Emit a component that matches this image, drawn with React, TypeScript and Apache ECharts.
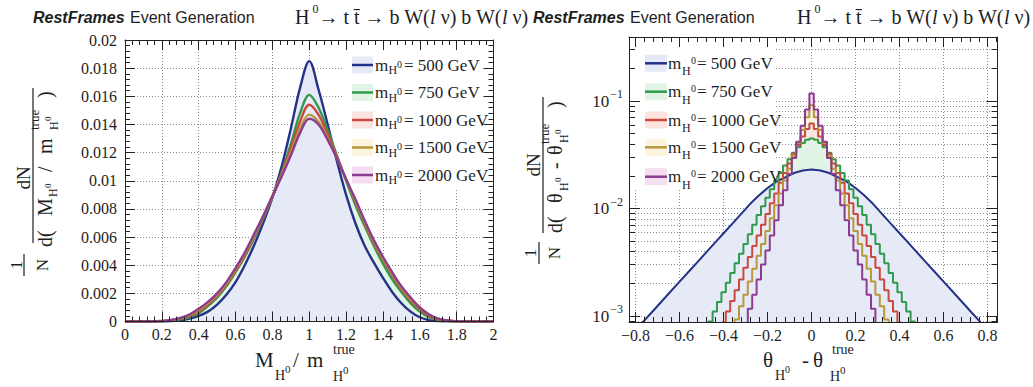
import React, { useEffect, useRef } from 'react';
import * as echarts from 'echarts';

// ---------- data ----------
const massLabels = ['500', '750', '1000', '1500', '2000'];
const lineColors = ['#243287', '#2f9a4c', '#c84a3e', '#b7983a', '#8c3c90'];
const fillColors = ['#e6eaf6', '#e1f4e5', '#fbe3df', '#fcf4dd', '#f5def1'];

// left panel: M_H0 / m_H0^true
const ratioX = [0, 0.05, 0.1, 0.15, 0.2, 0.25, 0.3, 0.35, 0.4, 0.45, 0.5, 0.55, 0.6, 0.65, 0.7, 0.75, 0.8, 0.85, 0.9, 0.95, 1, 1.05, 1.1, 1.15, 1.2, 1.25, 1.3, 1.35, 1.4, 1.45, 1.5, 1.55, 1.6, 1.65, 1.7, 1.75, 1.8, 1.85, 1.9, 1.95, 2];
const ratio500 = [0, 0, 0, 0, 0.00001, 0.00003, 0.00008, 0.0002, 0.0004, 0.0007, 0.0012, 0.0019, 0.0028, 0.004, 0.0054, 0.007, 0.0088, 0.011, 0.0137, 0.0166, 0.0185, 0.0165, 0.014, 0.0114, 0.009, 0.007, 0.0054, 0.0042, 0.0031, 0.0021, 0.0013, 0.0007, 0.0003, 0.0001, 0.00003, 0.00001, 0, 0, 0, 0, 0];
const ratio750 = [0, 0, 0, 0, 0.00002, 0.00006, 0.00015, 0.0003, 0.0006, 0.0011, 0.0017, 0.0025, 0.0035, 0.0046, 0.0059, 0.0073, 0.0088, 0.0106, 0.0126, 0.0148, 0.0161, 0.0152, 0.0136, 0.0118, 0.01, 0.0083, 0.0068, 0.0054, 0.0041, 0.003, 0.0021, 0.0013, 0.0007, 0.0003, 0.0001, 0.00004, 0.00001, 0, 0, 0, 0];
const ratio1000 = [0, 0, 0, 0, 0.00003, 0.00008, 0.0002, 0.0004, 0.0007, 0.0012, 0.0018, 0.0026, 0.0036, 0.0047, 0.006, 0.0074, 0.0089, 0.0105, 0.0123, 0.0142, 0.0154, 0.0147, 0.0133, 0.0117, 0.0101, 0.0085, 0.007, 0.0056, 0.0044, 0.0033, 0.0023, 0.0015, 0.0009, 0.0004, 0.00015, 0.00005, 0.00001, 0, 0, 0, 0];
const ratio1500 = [0, 0, 0, 0, 0.00003, 0.0001, 0.00022, 0.00045, 0.0008, 0.0013, 0.0019, 0.0027, 0.0037, 0.0048, 0.0061, 0.0075, 0.0089, 0.0104, 0.012, 0.0137, 0.0147, 0.0142, 0.013, 0.0116, 0.0101, 0.0086, 0.0071, 0.0057, 0.0045, 0.0034, 0.0024, 0.0016, 0.001, 0.0005, 0.0002, 0.00006, 0.00002, 0, 0, 0, 0];
const ratio2000 = [0, 0, 0, 0, 0.00004, 0.00011, 0.00025, 0.0005, 0.0009, 0.0014, 0.002, 0.0028, 0.0038, 0.0049, 0.0062, 0.0075, 0.0089, 0.0103, 0.0118, 0.0134, 0.0144, 0.014, 0.0129, 0.0116, 0.0101, 0.0087, 0.0072, 0.0058, 0.0046, 0.0035, 0.0025, 0.0017, 0.001, 0.0005, 0.0002, 0.00007, 0.00002, 0, 0, 0, 0];

// right panel: theta_H0 - theta_H0^true
const thetaBins = [-0.48, -0.46, -0.44, -0.42, -0.4, -0.38, -0.36, -0.34, -0.32, -0.3, -0.28, -0.26, -0.24, -0.22, -0.2, -0.18, -0.16, -0.14, -0.12, -0.1, -0.08, -0.06, -0.04, -0.02, 0, 0.02, 0.04, 0.06, 0.08, 0.1, 0.12, 0.14, 0.16, 0.18, 0.2, 0.22, 0.24, 0.26, 0.28, 0.3, 0.32, 0.34, 0.36, 0.38, 0.4, 0.42, 0.44, 0.46, 0.48];
const thetaCoarse = [-0.8, -0.76, -0.72, -0.68, -0.64, -0.6, -0.56, -0.52, -0.48, -0.44, -0.4, -0.36, -0.32, -0.28, -0.24, -0.2, -0.16, -0.12, -0.08, -0.04, 0, 0.04, 0.08, 0.12, 0.16, 0.2, 0.24, 0.28, 0.32, 0.36, 0.4, 0.44, 0.48, 0.52, 0.56, 0.6, 0.64, 0.68, 0.72, 0.76, 0.8];
const theta500 = [0.00074, 0.00091, 0.00112, 0.00138, 0.0017, 0.00209, 0.00257, 0.00316, 0.00389, 0.00479, 0.00589, 0.00724, 0.00891, 0.011, 0.0132, 0.0155, 0.0178, 0.0195, 0.0214, 0.0226, 0.0231, 0.0226, 0.0214, 0.0195, 0.0178, 0.0155, 0.0132, 0.011, 0.00891, 0.00724, 0.00589, 0.00479, 0.00389, 0.00316, 0.00257, 0.00209, 0.0017, 0.00138, 0.00112, 0.00091, 0.00074];
const theta750 = [0.00072, 0.00089, 0.0011, 0.00135, 0.00166, 0.00204, 0.00251, 0.00309, 0.0038, 0.00468, 0.00575, 0.00708, 0.00871, 0.0105, 0.0126, 0.0151, 0.0182, 0.0214, 0.0251, 0.0288, 0.0331, 0.0372, 0.0407, 0.0437, 0.0447, 0.0437, 0.0407, 0.0372, 0.0331, 0.0288, 0.0251, 0.0214, 0.0182, 0.0151, 0.0126, 0.0105, 0.00871, 0.00708, 0.00575, 0.00468, 0.0038, 0.00309, 0.00251, 0.00204, 0.00166, 0.00135, 0.0011, 0.00089, 0.00072];
const theta1000 = [null, null, null, null, 0.00087, 0.0011, 0.00138, 0.00174, 0.00219, 0.00282, 0.00355, 0.00447, 0.00562, 0.00708, 0.00891, 0.0112, 0.0138, 0.0174, 0.0214, 0.0263, 0.0324, 0.0389, 0.0468, 0.055, 0.0617, 0.055, 0.0468, 0.0389, 0.0324, 0.0263, 0.0214, 0.0174, 0.0138, 0.0112, 0.00891, 0.00708, 0.00562, 0.00447, 0.00355, 0.00282, 0.00219, 0.00174, 0.00138, 0.0011, 0.00087, null, null, null, null];
const theta1500 = [null, null, null, null, null, null, 0.00071, 0.00093, 0.00123, 0.00158, 0.00209, 0.00275, 0.00363, 0.00468, 0.00617, 0.00813, 0.0107, 0.0138, 0.0182, 0.0234, 0.0309, 0.0407, 0.0537, 0.0708, 0.0912, 0.0708, 0.0537, 0.0407, 0.0309, 0.0234, 0.0182, 0.0138, 0.0107, 0.00813, 0.00617, 0.00468, 0.00363, 0.00275, 0.00209, 0.00158, 0.00123, 0.00093, 0.00071, null, null, null, null, null, null];
const theta2000 = [null, null, null, null, null, null, null, null, null, 0.00085, 0.00117, 0.00158, 0.00219, 0.00302, 0.00407, 0.00562, 0.00776, 0.0107, 0.0148, 0.0209, 0.0295, 0.0417, 0.0589, 0.0832, 0.1175, 0.0832, 0.0589, 0.0417, 0.0295, 0.0209, 0.0148, 0.0107, 0.00776, 0.00562, 0.00407, 0.00302, 0.00219, 0.00158, 0.00117, 0.00085, null, null, null, null, null, null, null, null, null];

// axis ticks
const thetaMajor = [-0.8, -0.6, -0.4, -0.2, 0, 0.2, 0.4, 0.6, 0.8];
const thetaMinor = [-0.76, -0.72, -0.68, -0.64, -0.56, -0.52, -0.48, -0.44, -0.36, -0.32, -0.28, -0.24, -0.16, -0.12, -0.08, -0.04, 0.04, 0.08, 0.12, 0.16, 0.24, 0.28, 0.32, 0.36, 0.44, 0.48, 0.52, 0.56, 0.64, 0.68, 0.72, 0.76, 0.84];
const logMajor = [0.001, 0.01, 0.1];
const logMinor = [0.0009, 0.002, 0.003, 0.004, 0.005, 0.006, 0.007, 0.008, 0.009, 0.02, 0.03, 0.04, 0.05, 0.06, 0.07, 0.08, 0.09, 0.2, 0.3];

// ---------- styling helpers ----------
const SERIF = 'Liberation Serif, Times New Roman, serif';
const SANS = 'Liberation Sans, Arial, sans-serif';
const INK = '#1e1e1e';
const FRAME = '#222';

function txt(text: string, x: number, y: number, size: number, align: string = 'left', extra: any = {}) {
  return {
    type: 'text', x, y, z: 20, silent: true,
    style: { text, fontSize: size, fontFamily: SERIF, fill: INK, textAlign: align, textVerticalAlign: 'middle', ...extra },
  };
}
function seg(x1: number, y1: number, x2: number, y2: number, color = INK, w = 1.2) {
  return { type: 'line', z: 20, silent: true, shape: { x1, y1, x2, y2 }, style: { stroke: color, lineWidth: w } };
}

const frameLine = { show: true, onZero: false, lineStyle: { color: FRAME, width: 1 } };
const gridLineStyle = { color: '#8c8c8c', width: 1, type: [1, 2] };
const tickLabel = { fontFamily: SERIF, fontSize: 16, color: INK };
const noAxisLine = { show: false, onZero: false };

function buildOption() {
  const leftSets = [ratio500, ratio750, ratio1000, ratio1500, ratio2000];
  const rightSets: any[] = [
    [thetaCoarse, theta500], [thetaBins, theta750], [thetaBins, theta1000], [thetaBins, theta1500], [thetaBins, theta2000],
  ];
  const pairs = (xs: number[], ys: (number | null)[]) => xs.map((x, i) => [x, ys[i] === null ? '-' : ys[i]]);

  const series: any[] = [];
  for (let i = 4; i >= 0; i--) {
    series.push({
      type: 'line', name: `fillL${i}`, xAxisIndex: 0, yAxisIndex: 0, data: pairs(ratioX, leftSets[i]),
      smooth: 0.35, symbol: 'none', silent: true, z: 2,
      lineStyle: { width: 0, opacity: 0 }, areaStyle: { color: fillColors[i], opacity: 1 },
    });
  }
  for (let i = 0; i < 5; i++) {
    series.push({
      type: 'line', name: `m_H0 = ${massLabels[i]} GeV`, xAxisIndex: 0, yAxisIndex: 0, data: pairs(ratioX, leftSets[i]),
      smooth: 0.35, symbol: 'none', silent: true, z: 3,
      lineStyle: { width: 2.4, color: lineColors[i] },
    });
  }
  for (let i = 4; i >= 0; i--) {
    series.push({
      type: 'line', name: `fillR${i}`, xAxisIndex: 3, yAxisIndex: 3, data: pairs(rightSets[i][0], rightSets[i][1]),
      step: i === 0 ? false : 'middle', symbol: 'none', silent: true, z: 2,
      lineStyle: { width: 0, opacity: 0 }, areaStyle: { color: fillColors[i], opacity: 1, origin: 'start' },
    });
  }
  for (let i = 0; i < 5; i++) {
    series.push({
      type: 'line', name: `theta m_H0 = ${massLabels[i]} GeV`, xAxisIndex: 3, yAxisIndex: 3, data: pairs(rightSets[i][0], rightSets[i][1]),
      step: i === 0 ? false : 'middle', symbol: 'none', silent: true, z: 3,
      lineStyle: { width: 2, color: lineColors[i] },
    });
  }

  const linX = { type: 'value', gridIndex: 0, min: 0, max: 2, interval: 0.2 };
  const linY = { type: 'value', gridIndex: 0, min: 0, max: 0.02, interval: 0.002 };
  const thX = { type: 'value', gridIndex: 1, min: -0.83, max: 0.845 };
  const logY = { type: 'log', logBase: 10, gridIndex: 1, min: 0.00088, max: 0.394 };
  const majTick = { inside: true, length: 10, lineStyle: { color: FRAME } };
  const minTick = { show: true, splitNumber: 5, length: 5, lineStyle: { color: FRAME } };
  const thetaFmt = (v: number) => {
    const r = Math.round(v * 10) / 10;
    if (r === 0) return '0';
    return (r < 0 ? '\u2212' : '') + Math.abs(r).toFixed(1);
  };

  const xAxis = [
    { ...linX, position: 'bottom', z: 5, axisLine: frameLine, axisTick: majTick, minorTick: minTick, axisLabel: { ...tickLabel, margin: 5 }, splitLine: { show: false } },
    { ...linX, position: 'bottom', z: 0, axisLine: noAxisLine, axisTick: { show: false }, axisLabel: { show: false }, splitLine: { show: true, lineStyle: gridLineStyle } },
    { ...linX, position: 'top', z: 5, axisLine: frameLine, axisTick: majTick, minorTick: minTick, axisLabel: { show: false }, splitLine: { show: false } },
    { ...thX, position: 'bottom', z: 5, axisLine: frameLine, axisTick: { ...majTick, customValues: thetaMajor }, axisLabel: { ...tickLabel, margin: 5, customValues: thetaMajor, formatter: thetaFmt }, splitLine: { show: false } },
    { ...thX, position: 'bottom', z: 5, axisLine: noAxisLine, axisTick: { inside: true, length: 5, lineStyle: { color: FRAME }, customValues: thetaMinor }, axisLabel: { show: false }, splitLine: { show: false } },
    { ...thX, position: 'bottom', z: 0, axisLine: noAxisLine, axisTick: { show: false, customValues: thetaMajor }, axisLabel: { show: false }, splitLine: { show: true, lineStyle: gridLineStyle } },
    { ...thX, position: 'top', z: 5, axisLine: frameLine, axisTick: { ...majTick, customValues: thetaMajor }, axisLabel: { show: false }, splitLine: { show: false } },
    { ...thX, position: 'top', z: 5, axisLine: noAxisLine, axisTick: { inside: true, length: 5, lineStyle: { color: FRAME }, customValues: thetaMinor }, axisLabel: { show: false }, splitLine: { show: false } },
  ];

  const logRich = {
    b: { fontFamily: SERIF, fontSize: 17, color: INK, lineHeight: 26 },
    e: { fontFamily: SERIF, fontSize: 12, color: INK, lineHeight: 12, verticalAlign: 'top', padding: [0, 0, 0, 1] },
  };
  const logFmt = (v: number) => `{b|10}{e|\u2212${Math.round(-Math.log10(v))}}`;

  const yAxis = [
    { ...linY, position: 'left', z: 5, axisLine: frameLine, axisTick: majTick, minorTick: minTick, axisLabel: { ...tickLabel, margin: 8 }, splitLine: { show: false } },
    { ...linY, position: 'left', z: 0, axisLine: noAxisLine, axisTick: { show: false }, axisLabel: { show: false }, splitLine: { show: true, lineStyle: gridLineStyle } },
    { ...linY, position: 'right', z: 5, axisLine: frameLine, axisTick: majTick, minorTick: minTick, axisLabel: { show: false }, splitLine: { show: false } },
    { ...logY, position: 'left', z: 5, axisLine: frameLine, axisTick: { inside: true, length: 11, lineStyle: { color: FRAME }, customValues: logMajor }, axisLabel: { ...tickLabel, margin: 6, customValues: logMajor, formatter: logFmt, rich: logRich }, splitLine: { show: false } },
    { ...logY, position: 'left', z: 5, axisLine: noAxisLine, axisTick: { inside: true, length: 6, lineStyle: { color: FRAME }, customValues: logMinor }, axisLabel: { show: false }, splitLine: { show: false } },
    { ...logY, position: 'left', z: 0, axisLine: noAxisLine, axisTick: { show: false, customValues: logMajor.concat(logMinor) }, axisLabel: { show: false }, splitLine: { show: true, lineStyle: gridLineStyle } },
    { ...logY, position: 'right', z: 5, axisLine: frameLine, axisTick: { inside: true, length: 11, lineStyle: { color: FRAME }, customValues: logMajor }, axisLabel: { show: false }, splitLine: { show: false } },
    { ...logY, position: 'right', z: 5, axisLine: noAxisLine, axisTick: { inside: true, length: 6, lineStyle: { color: FRAME }, customValues: logMinor }, axisLabel: { show: false }, splitLine: { show: false } },
  ];

  // ---------- graphic: titles, legends, axis titles ----------
  const g: any[] = [];
  const formulaRich = {
    n: { fontSize: 20, fontFamily: SERIF, fill: INK, lineHeight: 28 },
    s: { fontSize: 12, fontFamily: SERIF, fill: INK, lineHeight: 12, verticalAlign: 'top' },
    i: { fontSize: 20, fontFamily: SERIF, fontStyle: 'italic', fill: INK, lineHeight: 28 },
  };
  const formula = '{n|H}{s| 0}{n|\u2192 t t\u0304 \u2192 b W(}{i|l}{n| \u03bd) b W(}{i|l}{n| \u03bd)}';
  const titles = [[33, 130, 295], [533, 630, 797]];
  titles.forEach(([a, b, c]) => {
    g.push({ type: 'text', x: a, y: 17, z: 20, silent: true, style: { text: 'RestFrames', fontSize: 16, fontStyle: 'italic', fontWeight: 'bold', fontFamily: SANS, fill: INK, textVerticalAlign: 'middle' } });
    g.push({ type: 'text', x: b, y: 17, z: 20, silent: true, style: { text: 'Event Generation', fontSize: 16, fontFamily: SANS, fill: INK, textVerticalAlign: 'middle' } });
    g.push({ type: 'text', x: c, y: 17, z: 20, silent: true, style: { text: formula, rich: formulaRich, textVerticalAlign: 'middle' } });
  });

  // white legend backgrounds (hide grid lines)
  g.push({ type: 'rect', z: 1, silent: true, shape: { x: 342, y: 40, width: 151, height: 150 }, style: { fill: '#fff' } });
  g.push({ type: 'rect', z: 1, silent: true, shape: { x: 629, y: 37, width: 145, height: 152 }, style: { fill: '#fff' } });

  const legendRows = [
    { rows: [65, 92.5, 120, 147.5, 175], bx: 352, bw: 21, tx: 375, hx: 388.5, hdy: 5, zx: 397, zdy: -1, ex: 404 },
    { rows: [63.3, 91.7, 120, 147.3, 176.7], bx: 645, bw: 22, tx: 668, hx: 682, hdy: 8, zx: 691, zdy: -3, ex: 697 },
  ];
  legendRows.forEach((L) => {
    L.rows.forEach((y, i) => {
      g.push({ type: 'rect', z: 15, silent: true, shape: { x: L.bx, y: y - 8.5, width: L.bw, height: 17 }, style: { fill: fillColors[i] } });
      g.push(seg(L.bx, y, L.bx + L.bw, y, lineColors[i], 2.5));
      g.push(txt('m', L.tx, y, 17));
      g.push(txt('H', L.hx, y + L.hdy, 12));
      g.push(txt('0', L.zx, y + L.zdy, 10));
      g.push(txt(`= ${massLabels[i]} GeV`, L.ex, y, 17));
    });
  });

  // x-axis titles
  g.push(txt('M', 255, 360, 21));
  g.push(txt('H', 275, 375, 14));
  g.push(txt('0', 285, 369, 11));
  g.push(txt('/', 293, 360, 21));
  g.push(txt('m', 307, 360, 21));
  g.push(txt('true', 333, 349, 14));
  g.push(txt('H', 333, 376, 14));
  g.push(txt('0', 343, 370, 11));

  g.push(txt('\u03b8', 763, 360, 21));
  g.push(txt('H', 775, 375, 14));
  g.push(txt('0', 785, 369, 10));
  g.push(txt('-', 802, 360, 21));
  g.push(txt('\u03b8', 813, 360, 21));
  g.push(txt('true', 832, 349, 14));
  g.push(txt('H', 830, 376, 14));
  g.push(txt('0', 840, 370, 11));

  // y-axis titles (rotated fractions)
  g.push({
    type: 'group', x: 33, y: 330, rotation: Math.PI / 2, children: [
      seg(87, 0, 242, 0),
      txt('dN', 152, -10, 19, 'center'),
      txt('1', 65, -17, 17, 'center'),
      seg(54, -9, 76, -9),
      txt('N', 65, 9, 17, 'center'),
      txt('d(', 83, 12, 20),
      txt('M', 114, 12, 20),
      txt('H', 133, 20, 12),
      txt('0', 142, 15, 9),
      txt('/', 158, 12, 20),
      txt('m', 176, 12, 20),
      txt('true', 200, 1, 13),
      txt('H', 200, 21, 12),
      txt('0', 209, 15, 9),
      txt(')', 232, 12, 20),
    ],
  });
  g.push({
    type: 'group', x: 543, y: 330, rotation: Math.PI / 2, children: [
      seg(97, 0, 233, 0),
      txt('dN', 165, -10, 19, 'center'),
      txt('1', 77, -13, 17, 'center'),
      seg(66, -4, 88, -4),
      txt('N', 77, 11, 17, 'center'),
      txt('d(', 97, 12, 20),
      txt('\u03b8', 127, 12, 20),
      txt('H', 139, 21, 12),
      txt('0', 148, 15, 9),
      txt('-', 161, 12, 20),
      txt('\u03b8', 175, 12, 20),
      txt('true', 186, 1, 13),
      txt('H', 187, 21, 12),
      txt('0', 196, 15, 9),
      txt(')', 222, 12, 20),
    ],
  });

  return {
    animation: false,
    backgroundColor: '#ffffff',
    textStyle: { fontFamily: SERIF },
    grid: [
      { left: 125, top: 40, width: 368.5, height: 281.5, containLabel: false, outerBoundsMode: 'none' },
      { left: 629, top: 37, width: 368.5, height: 285, containLabel: false, outerBoundsMode: 'none' },
    ],
    xAxis,
    yAxis,
    series,
    graphic: g,
  };
}

export default function App() {
  const ref = useRef<HTMLDivElement>(null);
  useEffect(() => {
    if (!ref.current) return;
    const chart = echarts.init(ref.current, undefined, { renderer: 'svg' });
    chart.setOption(buildOption() as any);
    return () => chart.dispose();
  }, []);
  return <div ref={ref} style={{ position: 'fixed', left: 0, top: 0, width: 1033, height: 387, background: '#fff' }} />;
}
